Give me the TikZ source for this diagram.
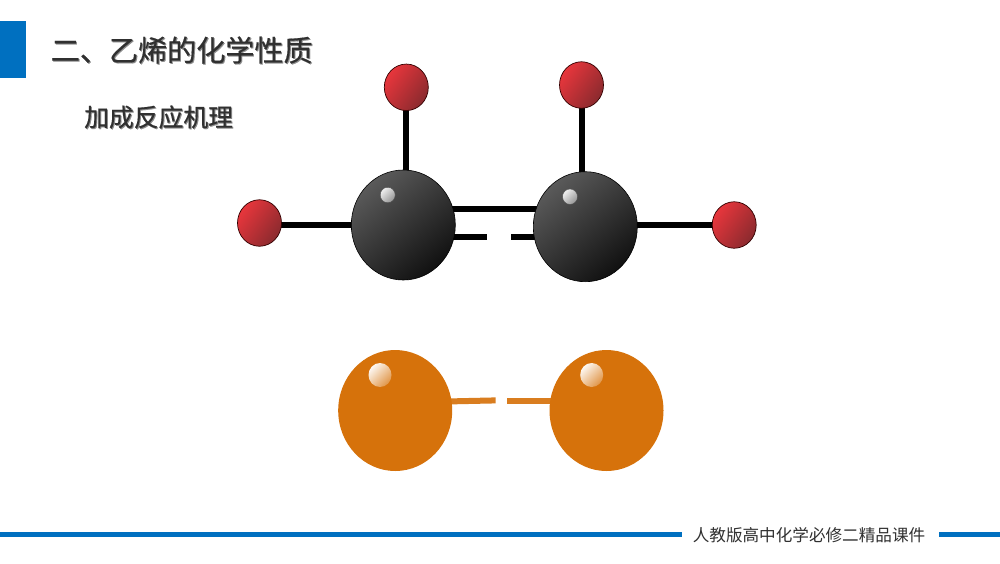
\documentclass[tikz,border=0pt]{standalone}
\usepackage{fontspec}
\usetikzlibrary{shapes.geometric,calc}
\setmainfont{Noto Sans CJK SC}
\newfontfamily\heavycjk{Noto Sans CJK SC}[FakeBold=0.5]
\definecolor{brandblue}{HTML}{0070C0}
\definecolor{inkc}{HTML}{303030}
\definecolor{shadowc}{HTML}{8C8C8C}
\definecolor{orangeatom}{HTML}{D6720B}
\definecolor{carbA}{HTML}{5A5A5A}
\definecolor{carbB}{HTML}{111111}
\definecolor{hydA}{HTML}{E8363C}
\definecolor{hydB}{HTML}{8A2A2E}
\tikzset{
  x=1pt,y=-1pt,
  atom/.style={ellipse,inner sep=0pt,outer sep=0pt},
  carbon/.style={atom,draw=black,line width=.6pt,minimum width=104pt,minimum height=110pt,top color=carbA,bottom color=carbB,shading angle=40},
  hydrogen/.style={atom,draw=black!80!red,line width=.7pt,minimum width=44pt,minimum height=46.5pt,top color=hydA,bottom color=hydB,shading angle=55},
  halogen/.style={ellipse,inner sep=0pt,outer sep=0pt,fill=orangeatom,minimum width=114pt,minimum height=121pt},
  glint/.style={atom,draw=black!70,line width=.4pt,minimum width=15pt,minimum height=15.5pt,top color=black!6,bottom color=black!42,shading angle=45},
  oglint/.style={atom,minimum width=23pt,minimum height=24pt,top color=white!95!orangeatom,bottom color=orangeatom!75!white,shading angle=45},
  bond/.style={line width=6pt,black},
  obond/.style={line width=6pt,orangeatom!92!white},
  rulebar/.style={line width=5.5pt,brandblue},
}
\begin{document}
\begin{tikzpicture}
\useasboundingbox (0,0) rectangle (1000,563);
\fill[white] (0,0) rectangle (1000,563);
\node[fill=brandblue,inner sep=0pt,minimum width=26pt,minimum height=57pt,anchor=north west] (tab) at (0,21) {};
% title texts with soft shadow
\node[anchor=west,inner sep=0pt,text=shadowc,font=\heavycjk\fontsize{29.1}{30}\selectfont] (titleS) at (51.6,51) {二、乙烯的化学性质};
\node[anchor=west,inner sep=0pt,text=inkc,font=\heavycjk\fontsize{29.1}{30}\selectfont] (title) at (50.6,50) {二、乙烯的化学性质};
\node[anchor=west,inner sep=0pt,text=shadowc,font=\heavycjk\fontsize{24.8}{26}\selectfont] (subS) at (85,118) {加成反应机理};
\node[anchor=west,inner sep=0pt,text=inkc,font=\heavycjk\fontsize{24.8}{26}\selectfont] (sub) at (84,117) {加成反应机理};
% named positions
\coordinate (c1p) at (403.3,225);
\coordinate (c2p) at (585.3,226.7);
\coordinate (h1p) at (406.3,87.3);
\coordinate (h2p) at (259.5,223);
\coordinate (h3p) at (581.5,85);
\coordinate (h4p) at (734.2,225);
\coordinate (dblA) at (403.3,209);
\coordinate (dblB) at (585.3,209);
\coordinate (piA) at (403.3,236.7);
\coordinate (piAe) at (487.3,236.7);
\coordinate (piB) at (585.3,236.7);
\coordinate (piBe) at (510.7,236.7);
% bonds under atoms
\draw[bond] (h1p) -- (h1p |- c1p);
\draw[bond] (h2p |- c1p) -- (c1p);
\draw[bond] (h3p) -- (h3p |- c2p);
\draw[bond] (h4p) -- (h4p -| c2p);
\draw[bond] (dblA) -- (dblB);
\draw[bond] (piA) -- (piAe);
\draw[bond] (piB) -- (piBe);
% atoms
\node[carbon] (c1) at (c1p) {};
\node[carbon] (c2) at (c2p) {};
\node[hydrogen] (h1) at (h1p) {};
\node[hydrogen] (h2) at (h2p) {};
\node[hydrogen] (h3) at (h3p) {};
\node[hydrogen] (h4) at (h4p) {};
\node[glint] (g1) at (387.7,195) {};
\node[glint] (g2) at (570,196.7) {};
% halogen molecule
\coordinate (x1p) at (395.2,410.5);
\coordinate (x2p) at (606.5,410.5);
\coordinate (xa) at (495.6,400.4);
\coordinate (xb) at (507,401.4);
\draw[obond] (450,401.4) -- (xa);
\draw[obond] (xb) -- (552,401.4);
\node[halogen] (x1) at (x1p) {};
\node[halogen] (x2) at (x2p) {};
\node[oglint] (o1) at (380,375) {};
\node[oglint] (o2) at (591.7,375) {};
% footer
\coordinate (r1a) at (0,534.7);
\coordinate (r1b) at (682,534.7);
\coordinate (r2a) at (939,534.7);
\coordinate (r2b) at (1000,534.7);
\draw[rulebar] (r1a) -- (r1b);
\draw[rulebar] (r2a) -- (r2b);
\node[inner sep=0pt,text=inkc,font=\fontsize{16.6}{18}\selectfont] (foot) at (809,535) {人教版高中化学必修二精品课件};
\end{tikzpicture}
\end{document}
